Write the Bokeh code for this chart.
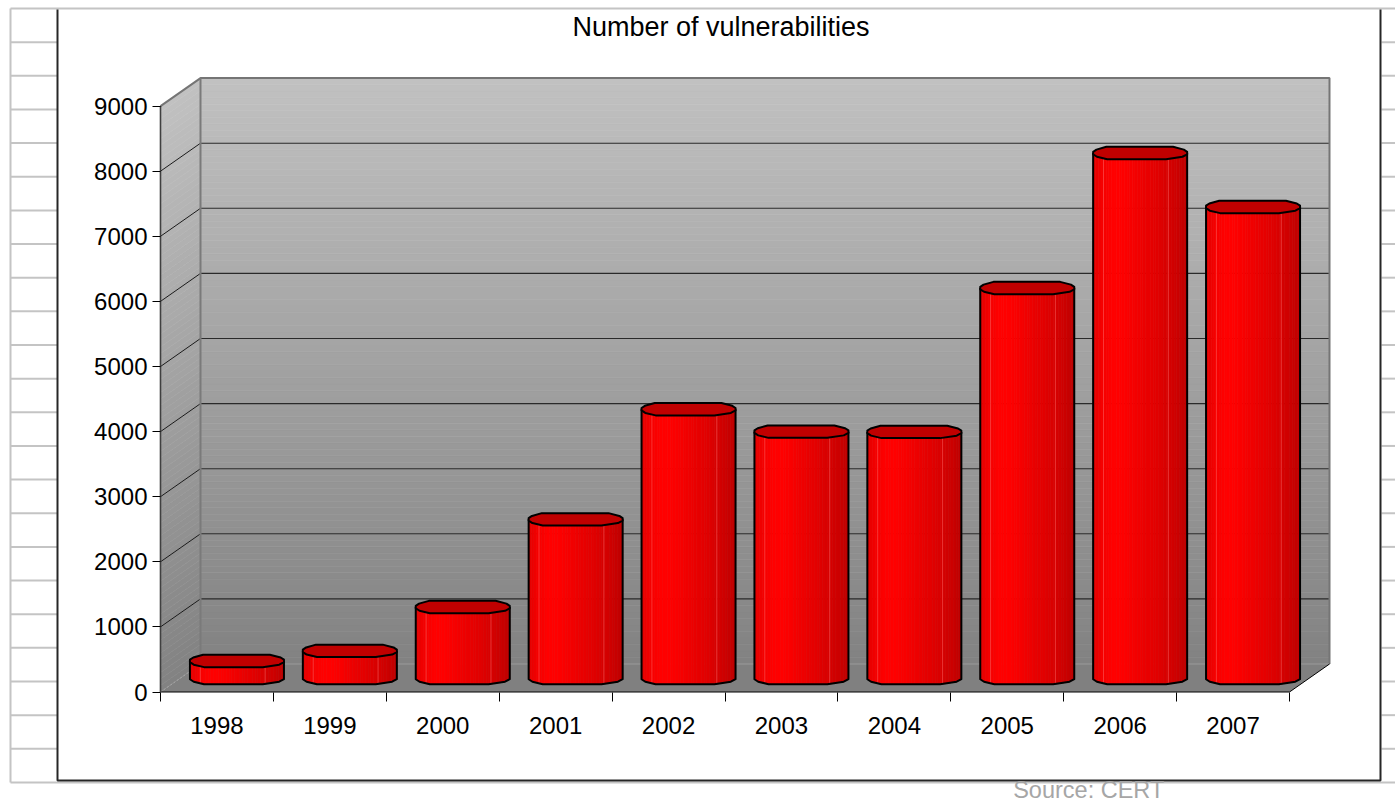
import numpy as np
from bokeh.plotting import figure
from bokeh.models import Range1d, FixedTicker
from bokeh.core.properties import value
from bokeh.embed import file_html
from bokeh.resources import INLINE

# ---------------- data ----------------
years = ["1998", "1999", "2000", "2001", "2002", "2003", "2004", "2005", "2006", "2007"]
counts = [262, 417, 1090, 2437, 4129, 3784, 3780, 5990, 8064, 7236]
y_ticks = [0, 1000, 2000, 3000, 4000, 5000, 6000, 7000, 8000, 9000]
title_text = "Number of vulnerabilities"
source_text = "Source: CERT"

# ---------------- layout (pixels) ----------------
W, H = 1395, 802
AX_X = 160.0        # px of front-left corner of the floor
CAT_W = 112.9       # px per category
ZERO_Y = 691.5      # px of value 0 on the front plane
PX_PER_UNIT = 0.0651
DEPTH_X, DEPTH_Y = 40.0, 28.0
FONT = "Liberation Sans"


def X(px):
    return (px - AX_X) / CAT_W - 0.5


def Y(py):
    return (ZERO_Y - py) / PX_PER_UNIT


dx = DEPTH_X / CAT_W
dy = DEPTH_Y / PX_PER_UNIT
n = len(years)
x_lo, x_hi = -0.5, n - 0.5
v_top = y_ticks[-1]

p = figure(width=W, height=H, output_backend="svg", toolbar_location=None,
           x_range=Range1d(X(0), X(W)), y_range=Range1d(Y(H), Y(0)),
           min_border=0, outline_line_color=None)
p.background_fill_color = "white"
p.border_fill_color = "white"
p.xgrid.visible = False
p.ygrid.visible = False

# ---------------- spreadsheet background ----------------
row_top, row_h, n_rows = 8.0, 33.65, 23
g_x0, g_x1, g_y0, g_y1 = [], [], [], []
for k in range(n_rows + 1):
    yy = Y(row_top + k * row_h)
    if k == 0 or k == n_rows:
        g_x0.append(X(10)); g_x1.append(X(W)); g_y0.append(yy); g_y1.append(yy)
    else:
        g_x0 += [X(10), X(1381)]; g_x1 += [X(57), X(W)]
        g_y0 += [yy, yy]; g_y1 += [yy, yy]
g_x0.append(X(10)); g_x1.append(X(10))
g_y0.append(Y(row_top)); g_y1.append(Y(row_top + n_rows * row_h))
p.segment(x0=g_x0, y0=g_y0, x1=g_x1, y1=g_y1, line_color="#C4C4C4", line_width=2)

# chart area border
p.line(x=[X(57), X(57), X(1380), X(1380)], y=[Y(9), Y(780), Y(780), Y(9)],
       line_color="#262626", line_width=2)

# ---------------- walls ----------------
NB = 90
edges = np.linspace(0, v_top, NB + 1)
bot, top = edges[:-1], edges[1:]
t = (bot + top) / 2 / v_top
gray = (130 + (193 - 130) * t).round().astype(int)
wall_cols = ["#%02x%02x%02x" % (g, g, g) for g in gray]
p.quad(left=x_lo + dx, right=x_hi + dx, bottom=bot + dy, top=top + dy,
       fill_color=wall_cols, line_color=wall_cols, line_width=0.6)
side_xs = [[x_lo, x_lo + dx, x_lo + dx, x_lo] for _ in range(NB)]
side_ys = [[b, b + dy, tt + dy, tt] for b, tt in zip(bot, top)]
p.patches(xs=side_xs, ys=side_ys, fill_color=wall_cols, line_color=wall_cols, line_width=0.6)

# floor
p.patch(x=[x_lo, x_hi, x_hi + dx, x_lo + dx], y=[0, 0, dy, dy],
        fill_color="#808080", line_color=None)

# gridlines
gv = y_ticks[1:-1]
p.segment(x0=[x_lo + dx] * len(gv), y0=[v + dy for v in gv],
          x1=[x_hi + dx] * len(gv), y1=[v + dy for v in gv],
          line_color="#2a2a2a", line_width=1.1)
p.segment(x0=[x_lo] * len(gv), y0=gv, x1=[x_lo + dx] * len(gv), y1=[v + dy for v in gv],
          line_color="#1a1a1a", line_width=1)

# wall edges
p.line(x=[x_lo, x_lo + dx, x_hi + dx, x_hi + dx], y=[v_top, v_top + dy, v_top + dy, dy],
       line_color="#757575", line_width=2)
p.line(x=[x_lo + dx, x_lo + dx], y=[dy, v_top + dy], line_color="#7a7a7a", line_width=2)
p.line(x=[x_lo + dx, x_hi + dx], y=[dy, dy], line_color="#9a9a9a", line_width=1)
p.line(x=[x_lo, x_lo + dx], y=[0, dy], line_color="#a8a8a8", line_width=1, line_dash="2 2")
p.line(x=[x_lo, x_hi, x_hi + dx], y=[0, 0, dy], line_color="black", line_width=1)
p.line(x=[x_lo, x_lo], y=[0, v_top], line_color="#404040", line_width=1.6)

# ---------------- cylinders ----------------
hw = 47.0 / CAT_W
eh = 6.2 / PX_PER_UNIT
up_u = np.array([-1, -0.93, -0.72, 0.70, 0.93, 1])
up_v = np.array([0.2, 0.55, 1, 1, 0.55, 0.2])
lo_u = np.array([-1, -0.92, -0.70, 0.55, 0.90, 1])
lo_v = np.array([-0.2, -0.6, -1, -1, -0.6, -0.2])
sh_u = [-1, -0.8, -0.6, -0.4, -0.2, 0, 0.2, 0.4, 0.6, 0.8, 1]
sh_r = [228, 245, 255, 255, 248, 240, 232, 224, 215, 204, 190]

NS = 36
us = np.linspace(-1, 1, NS + 1)
b_xs, b_ys, b_cols = [], [], []
o_xs, o_ys, c_xs, c_ys = [], [], [], []
f_xs, f_ys = [], []
for i, c in enumerate(counts):
    cx = i + dx / 2
    vb = dy / 2
    vt = c + dy / 2
    for k in range(NS):
        u0, u1 = us[k], us[k + 1]
        r = int(round(np.interp((u0 + u1) / 2, sh_u, sh_r)))
        b_cols.append("#%02x0000" % r)
        b_xs.append([cx + u0 * hw, cx + u1 * hw, cx + u1 * hw, cx + u0 * hw])
        b_ys.append([vt, vt, vb + eh * np.interp(u1, lo_u, lo_v), vb + eh * np.interp(u0, lo_u, lo_v)])
    # facet highlights
    for fu in (-0.78, 0.6):
        f_xs.append([cx + fu * hw, cx + fu * hw])
        f_ys.append([vb + eh * np.interp(fu, lo_u, lo_v), vt])
    # body outline
    o_xs.append([cx - hw] + list(cx + lo_u * hw) + [cx + hw])
    o_ys.append([vt] + list(vb + eh * lo_v) + [vt])
    # top cap
    c_xs.append(list(cx + up_u * hw) + list(cx + lo_u[::-1] * hw))
    c_ys.append(list(vt + eh * up_v) + list(vt + eh * lo_v[::-1]))

p.patches(xs=b_xs, ys=b_ys, fill_color=b_cols, line_color=b_cols, line_width=0.6)
p.multi_line(xs=f_xs, ys=f_ys, line_color="#ff7070", line_alpha=0.45, line_width=1)
p.multi_line(xs=o_xs, ys=o_ys, line_color="black", line_width=2, line_join="round")
p.patches(xs=c_xs, ys=c_ys, fill_color="#c00000", line_color="black", line_width=2,
          line_join="round")

# ---------------- axes ----------------
yax = p.yaxis[0]
yax.fixed_location = x_lo
yax.ticker = FixedTicker(ticks=y_ticks)
yax.axis_line_color = None
yax.major_tick_line_color = "black"
yax.major_tick_out = 8
yax.major_tick_in = 0
yax.minor_tick_line_color = None
yax.major_label_standoff = 5
yax.major_label_text_font = FONT
yax.major_label_text_font_size = "24px"
yax.major_label_text_color = "black"

xax = p.xaxis[0]
xax.fixed_location = 0
xax.ticker = FixedTicker(ticks=list(range(n)), minor_ticks=[i - 0.5 for i in range(n + 1)])
xax.major_label_overrides = {i: years[i] for i in range(n)}
xax.axis_line_color = None
xax.major_tick_line_color = None
xax.major_tick_out = 0
xax.major_tick_in = 0
xax.minor_tick_line_color = "black"
xax.minor_tick_out = 9
xax.minor_tick_in = 0
xax.major_label_standoff = 16
xax.major_label_text_font = FONT
xax.major_label_text_font_size = "24px"
xax.major_label_text_color = "black"

# ---------------- texts ----------------
p.text(x=[X(720.5)], y=[Y(26.5)], text=[title_text], text_align="center",
       text_baseline="alphabetic", text_font=value(FONT), text_font_size="27px",
       text_color="black")
p.text(x=[X(1012.7)], y=[Y(789.5)], text=[source_text], text_align="left",
       text_baseline="alphabetic", text_font=value(FONT), text_font_size="23.5px",
       text_color="#a6a6a6")

open("out.html", "w").write(file_html(p, INLINE))
